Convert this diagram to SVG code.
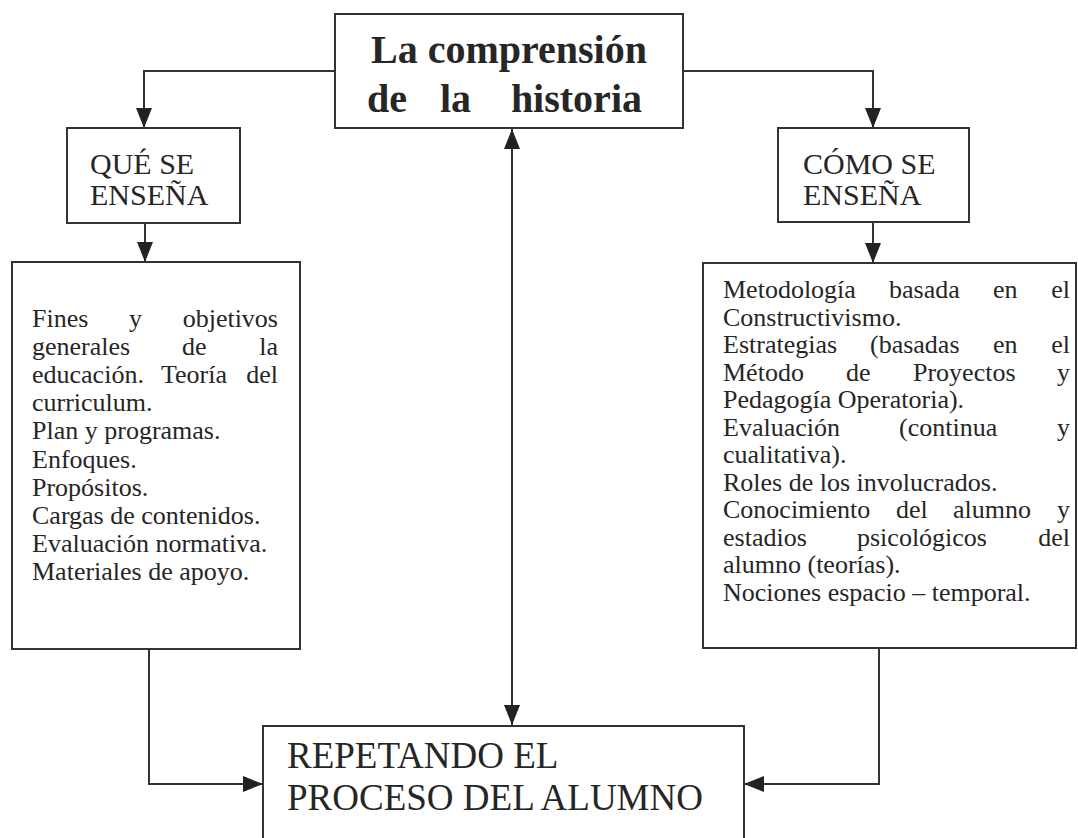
<svg xmlns="http://www.w3.org/2000/svg" width="1078" height="838" viewBox="0 0 1078 838">
<defs>
<style>
.box{fill:#fff;stroke:#333;stroke-width:2}
.ln{fill:none;stroke:#333;stroke-width:2}
text{font-family:"Liberation Serif","Times New Roman",serif;fill:#262626}
.title{font-size:40px;font-weight:bold}
.hd{font-size:30px}
.bd{font-size:26px}
.bt{font-size:37px}
</style>
<marker id="ah" viewBox="0 0 20 16" refX="20" refY="8" markerWidth="20" markerHeight="16" markerUnits="userSpaceOnUse" orient="auto-start-reverse">
<path d="M0,0 L20,8 L0,16 Z" fill="#222"/>
</marker>
</defs>
<rect width="1078" height="838" fill="#fff"/>

<g id="connectors">
<polyline class="ln" points="335,71 144,71 144,128" marker-end="url(#ah)"/>
<polyline class="ln" points="683,71 873,71 873,128" marker-end="url(#ah)"/>
<line class="ln" x1="145" y1="223" x2="145" y2="262" marker-end="url(#ah)"/>
<line class="ln" x1="873" y1="222" x2="873" y2="263" marker-end="url(#ah)"/>
<line class="ln" x1="512" y1="129" x2="512" y2="725" marker-start="url(#ah)" marker-end="url(#ah)"/>
<polyline class="ln" points="149,649 149,784 263,784" marker-end="url(#ah)"/>
<polyline class="ln" points="879,648 879,784 744,784" marker-end="url(#ah)"/>
</g>

<g id="title">
<rect class="box" x="335" y="14" width="348" height="114"/>
<text class="title" x="509" y="63" text-anchor="middle">La comprensión</text>
<text class="title"><tspan x="367" y="112">de</tspan><tspan x="440" y="112">la</tspan><tspan x="642" y="112" text-anchor="end">historia</tspan></text>
</g>

<g id="que">
<rect class="box" x="67" y="128" width="173" height="95"/>
<text class="hd" x="90" y="174">QUÉ SE</text>
<text class="hd" x="90" y="205">ENSEÑA</text>
</g>

<g id="como">
<rect class="box" x="778" y="128" width="191" height="94"/>
<text class="hd" x="803" y="174">CÓMO SE</text>
<text class="hd" x="803" y="205">ENSEÑA</text>
</g>

<g id="que-contenido">
<rect class="box" x="12" y="262" width="288" height="387"/>
<text class="bd"><tspan x="32" y="327">Fines</tspan><tspan x="129" y="327">y</tspan><tspan x="278" y="327" text-anchor="end">objetivos</tspan></text>
<text class="bd"><tspan x="32" y="355">generales</tspan><tspan x="182" y="355">de</tspan><tspan x="278" y="355" text-anchor="end">la</tspan></text>
<text class="bd"><tspan x="32" y="383">educación.</tspan><tspan x="161" y="383">Teoría</tspan><tspan x="278" y="383" text-anchor="end">del</tspan></text>
<text class="bd" x="32" y="411">curriculum.</text>
<text class="bd" x="32" y="439">Plan y programas.</text>
<text class="bd" x="32" y="468">Enfoques.</text>
<text class="bd" x="32" y="496">Propósitos.</text>
<text class="bd" x="32" y="524">Cargas de contenidos.</text>
<text class="bd" x="32" y="552">Evaluación normativa.</text>
<text class="bd" x="32" y="580">Materiales de apoyo.</text>
</g>

<g id="como-contenido">
<rect class="box" x="703" y="263" width="373" height="385"/>
<text class="bd"><tspan x="723" y="298">Metodología</tspan><tspan x="889" y="298">basada</tspan><tspan x="993" y="298">en</tspan><tspan x="1070" y="298" text-anchor="end">el</tspan></text>
<text class="bd" x="723" y="325.5">Constructivismo.</text>
<text class="bd"><tspan x="723" y="353">Estrategias</tspan><tspan x="870" y="353">(basadas</tspan><tspan x="993" y="353">en</tspan><tspan x="1070" y="353" text-anchor="end">el</tspan></text>
<text class="bd"><tspan x="723" y="380.5">Método</tspan><tspan x="846" y="380.5">de</tspan><tspan x="913" y="380.5">Proyectos</tspan><tspan x="1070" y="380.5" text-anchor="end">y</tspan></text>
<text class="bd" x="723" y="408">Pedagogía Operatoria).</text>
<text class="bd"><tspan x="723" y="435.5">Evaluación</tspan><tspan x="899" y="435.5">(continua</tspan><tspan x="1070" y="435.5" text-anchor="end">y</tspan></text>
<text class="bd" x="723" y="463">cualitativa).</text>
<text class="bd" x="723" y="490.5">Roles de los involucrados.</text>
<text class="bd"><tspan x="723" y="518">Conocimiento</tspan><tspan x="896" y="518">del</tspan><tspan x="953" y="518">alumno</tspan><tspan x="1070" y="518" text-anchor="end">y</tspan></text>
<text class="bd"><tspan x="723" y="545.5">estadios</tspan><tspan x="857" y="545.5">psicológicos</tspan><tspan x="1070" y="545.5" text-anchor="end">del</tspan></text>
<text class="bd" x="723" y="573">alumno (teorías).</text>
<text class="bd" x="723" y="600.5">Nociones espacio – temporal.</text>
</g>

<g id="repetando">
<rect class="box" x="263" y="726" width="481" height="130"/>
<text class="bt" x="287" y="768">REPETANDO EL</text>
<text class="bt" x="287" y="810">PROCESO DEL ALUMNO</text>
</g>
</svg>
